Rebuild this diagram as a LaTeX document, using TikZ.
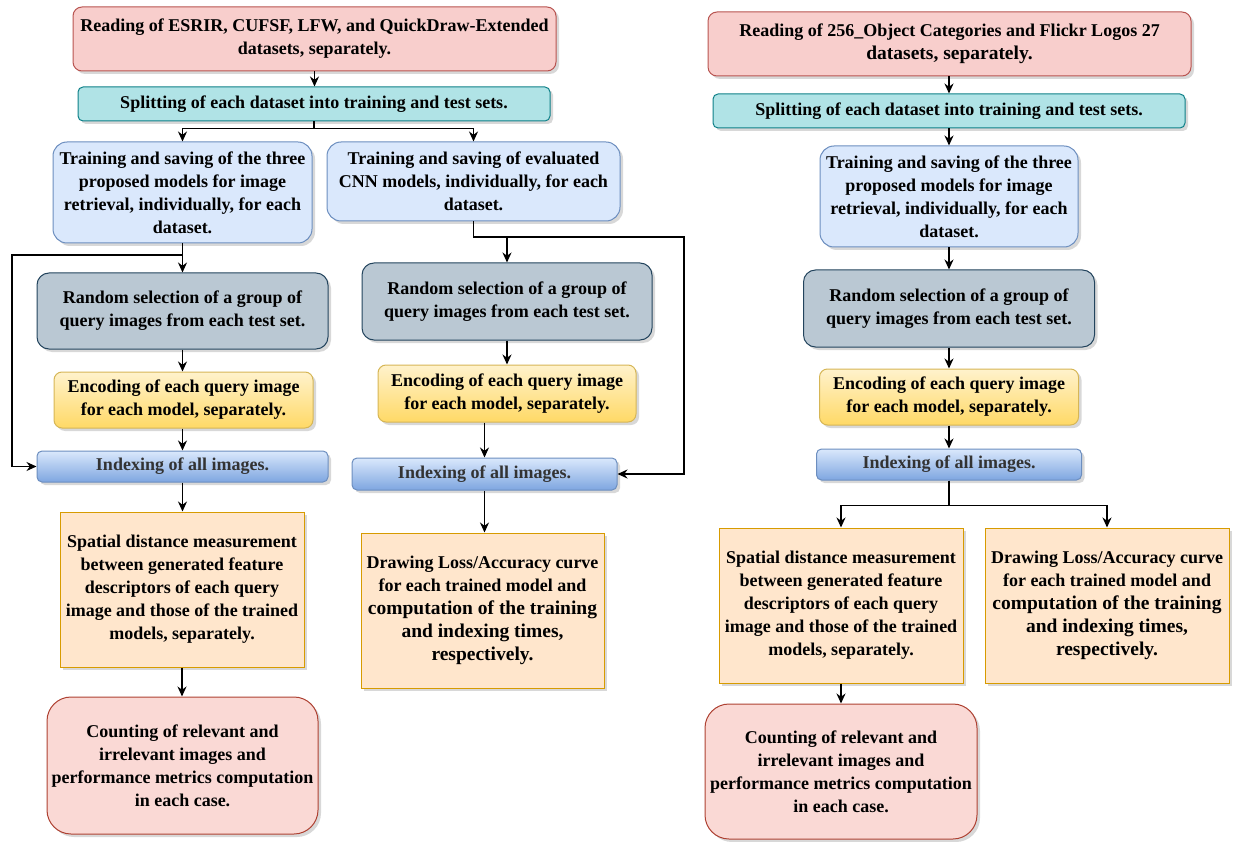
\documentclass[tikz,border=0pt]{standalone}
\usepackage{fontspec}
\setmainfont{Liberation Serif}
\usetikzlibrary{arrows.meta,shadows}
\definecolor{readF}{HTML}{F8CECC}\definecolor{readD}{HTML}{B85450}
\definecolor{splitF}{HTML}{B0E3E6}\definecolor{splitD}{HTML}{0E8088}
\definecolor{trainF}{HTML}{DAE8FC}\definecolor{trainD}{HTML}{6C8EBF}
\definecolor{randF}{HTML}{BAC8D3}\definecolor{randD}{HTML}{23445D}
\definecolor{encT}{HTML}{FFF2CC}\definecolor{encB}{HTML}{FFD966}\definecolor{encD}{HTML}{D6B656}
\definecolor{idxT}{HTML}{DAE8FC}\definecolor{idxB}{HTML}{7EA6E0}\definecolor{idxD}{HTML}{6C8EBF}
\definecolor{spF}{HTML}{FFE6CC}\definecolor{spD}{HTML}{D79B00}
\definecolor{cntF}{HTML}{FAD9D5}\definecolor{cntD}{HTML}{AE4132}
\definecolor{idxText}{HTML}{333333}
\newcommand{\biglines}[1]{{\fontsize{19.5}{25}\selectfont #1}}
\begin{document}
\begin{tikzpicture}[x=1pt,y=-1pt,
  font=\fontsize{18}{23}\selectfont\bfseries,
  box/.style={draw, line width=1pt, align=center, inner sep=0pt,
    drop shadow={shadow xshift=3pt, shadow yshift=-3pt, fill=black!30, opacity=0.5}},
  readbox/.style={box, fill=readF, draw=readD, rounded corners=9pt},
  splitbox/.style={box, fill=splitF, draw=splitD, rounded corners=5pt},
  trainbox/.style={box, fill=trainF, draw=trainD, rounded corners=14pt},
  randbox/.style={box, fill=randF, draw=randD, rounded corners=12pt},
  encbox/.style={box, top color=encT, bottom color=encB, draw=encD, rounded corners=8pt},
  idxbox/.style={box, top color=idxT, bottom color=idxB, draw=idxD, rounded corners=5pt, text=idxText},
  spbox/.style={box, fill=spF, draw=spD},
  cntbox/.style={box, fill=cntF, draw=cntD, rounded corners=24pt},
  arr/.style={draw=black, line width=1.4pt, -{Stealth[length=10pt,width=9pt]}},
]
\useasboundingbox (0,0) rectangle (1234,842);

% ---------- left block ----------
\node[readbox, minimum width=483pt, minimum height=64pt] (read1) at (314.5,39)
  {Reading of ESRIR, CUFSF, LFW, and QuickDraw-Extended\\datasets, separately.};
\node[splitbox, minimum width=472pt, minimum height=34pt] (split1) at (314,104)
  {Splitting of each dataset into training and test sets.};
\node[trainbox, minimum width=259pt, minimum height=101pt] (train1a) at (182.5,192.5)
  {Training and saving of the three\\proposed models for image\\retrieval, individually, for each\\dataset.};
\node[trainbox, minimum width=293pt, minimum height=79pt] (train1b) at (473.5,181.5)
  {Training and saving of evaluated\\CNN models, individually, for each\\dataset.};
\node[randbox, minimum width=291pt, minimum height=76pt] (rand1) at (182.5,311)
  {Random selection of a group of\\query images from each test set.};
\node[encbox, minimum width=259pt, minimum height=56pt] (enc1) at (183.5,400)
  {Encoding of each query image\\for each model, separately.};
\node[idxbox, minimum width=291pt, minimum height=31pt] (idx1) at (182.5,466.5)
  {Indexing of all images.};
\node[spbox, minimum width=244pt, minimum height=155pt] (sp1) at (182,589.5)
  {Spatial distance measurement\\between generated feature\\descriptors of each query\\image and those of the trained\\models, separately.};
\node[cntbox, minimum width=271pt, minimum height=137pt] (cnt1) at (182.5,765.5)
  {Counting of relevant and\\irrelevant images and\\performance metrics computation\\in each case.};

\node[randbox, minimum width=290pt, minimum height=77pt] (rand2) at (507,301.5)
  {Random selection of a group of\\query images from each test set.};
\node[encbox, minimum width=258pt, minimum height=57pt] (enc2) at (507,393.5)
  {Encoding of each query image\\for each model, separately.};
\node[idxbox, minimum width=265pt, minimum height=32pt] (idx2) at (484.5,474)
  {Indexing of all images.};
\node[spbox, minimum width=243pt, minimum height=155pt] (draw1) at (482.5,610.5)
  {Drawing Loss/Accuracy curve\\for each trained model and\\\biglines{computation of the training}\\\biglines{and indexing times,}\\\biglines{respectively.}};

% ---------- right block ----------
\node[readbox, minimum width=483pt, minimum height=64pt] (read2) at (949.5,44)
  {Reading of 256\_Object Categories and Flickr Logos 27\\\biglines{datasets, separately.}};
\node[splitbox, minimum width=472pt, minimum height=34pt] (split2) at (949,111)
  {Splitting of each dataset into training and test sets.};
\node[trainbox, minimum width=258pt, minimum height=101pt] (train2) at (949,196.5)
  {Training and saving of the three\\proposed models for image\\retrieval, individually, for each\\dataset.};
\node[randbox, minimum width=291pt, minimum height=77pt] (rand3) at (949,308.5)
  {Random selection of a group of\\query images from each test set.};
\node[encbox, minimum width=259pt, minimum height=56pt] (enc3) at (949,397)
  {Encoding of each query image\\for each model, separately.};
\node[idxbox, minimum width=265pt, minimum height=31pt] (idx3) at (949,464.5)
  {Indexing of all images.};
\node[spbox, minimum width=244pt, minimum height=155pt] (sp2) at (841,605.5)
  {Spatial distance measurement\\between generated feature\\descriptors of each query\\image and those of the trained\\models, separately.};
\node[spbox, minimum width=244pt, minimum height=155pt] (draw2) at (1107,605.5)
  {Drawing Loss/Accuracy curve\\for each trained model and\\\biglines{computation of the training}\\\biglines{and indexing times,}\\\biglines{respectively.}};
\node[cntbox, minimum width=272pt, minimum height=135pt] (cnt2) at (841,771.5)
  {Counting of relevant and\\irrelevant images and\\performance metrics computation\\in each case.};

% ---------- connectors, left block ----------
\coordinate (fbL) at (12,255);
\coordinate (fbR) at (684,237);
\path[arr] (read1.south) -- (read1.south |- split1.north);
\path[arr] (split1.south) -- ++(0,7) -| (train1a.north);
\path[arr] (split1.south) -- ++(0,7) -| (train1b.north);
\path[arr] (train1a.south) -- (train1a.south |- rand1.north);
\path[arr] (train1a.south) |- (fbL) |- (idx1.west);
\path[arr] (rand1.south) -- (rand1.south |- enc1.north);
\path[arr] (enc1.south -| rand1.south) -- (rand1.south |- idx1.north);
\path[arr] (idx1.south) -- (idx1.south |- sp1.north);
\path[arr] (sp1.south) -- (sp1.south |- cnt1.north);

\path[arr] (train1b.south) -- ++(0,16) -| (rand2.north);
\path[arr] (train1b.south) |- (fbR) |- (idx2.east);
\path[arr] (rand2.south) -- (enc2.north);
\path[arr] (idx2.north |- enc2.south) -- (idx2.north);
\path[arr] (idx2.south) -- (idx2.south |- draw1.north);

% ---------- connectors, right block ----------
\path[arr] (read2.south -| split2.north) -- (split2.north);
\path[arr] (split2.south) -- (train2.north);
\path[arr] (train2.south) -- (rand3.north);
\path[arr] (rand3.south) -- (enc3.north);
\path[arr] (enc3.south) -- (idx3.north);
\path[arr] (idx3.south) -- ++(0,25) -| (sp2.north);
\path[arr] (idx3.south) -- ++(0,25) -| (draw2.north);
\path[arr] (sp2.south) -- (cnt2.north);
\end{tikzpicture}
\end{document}
